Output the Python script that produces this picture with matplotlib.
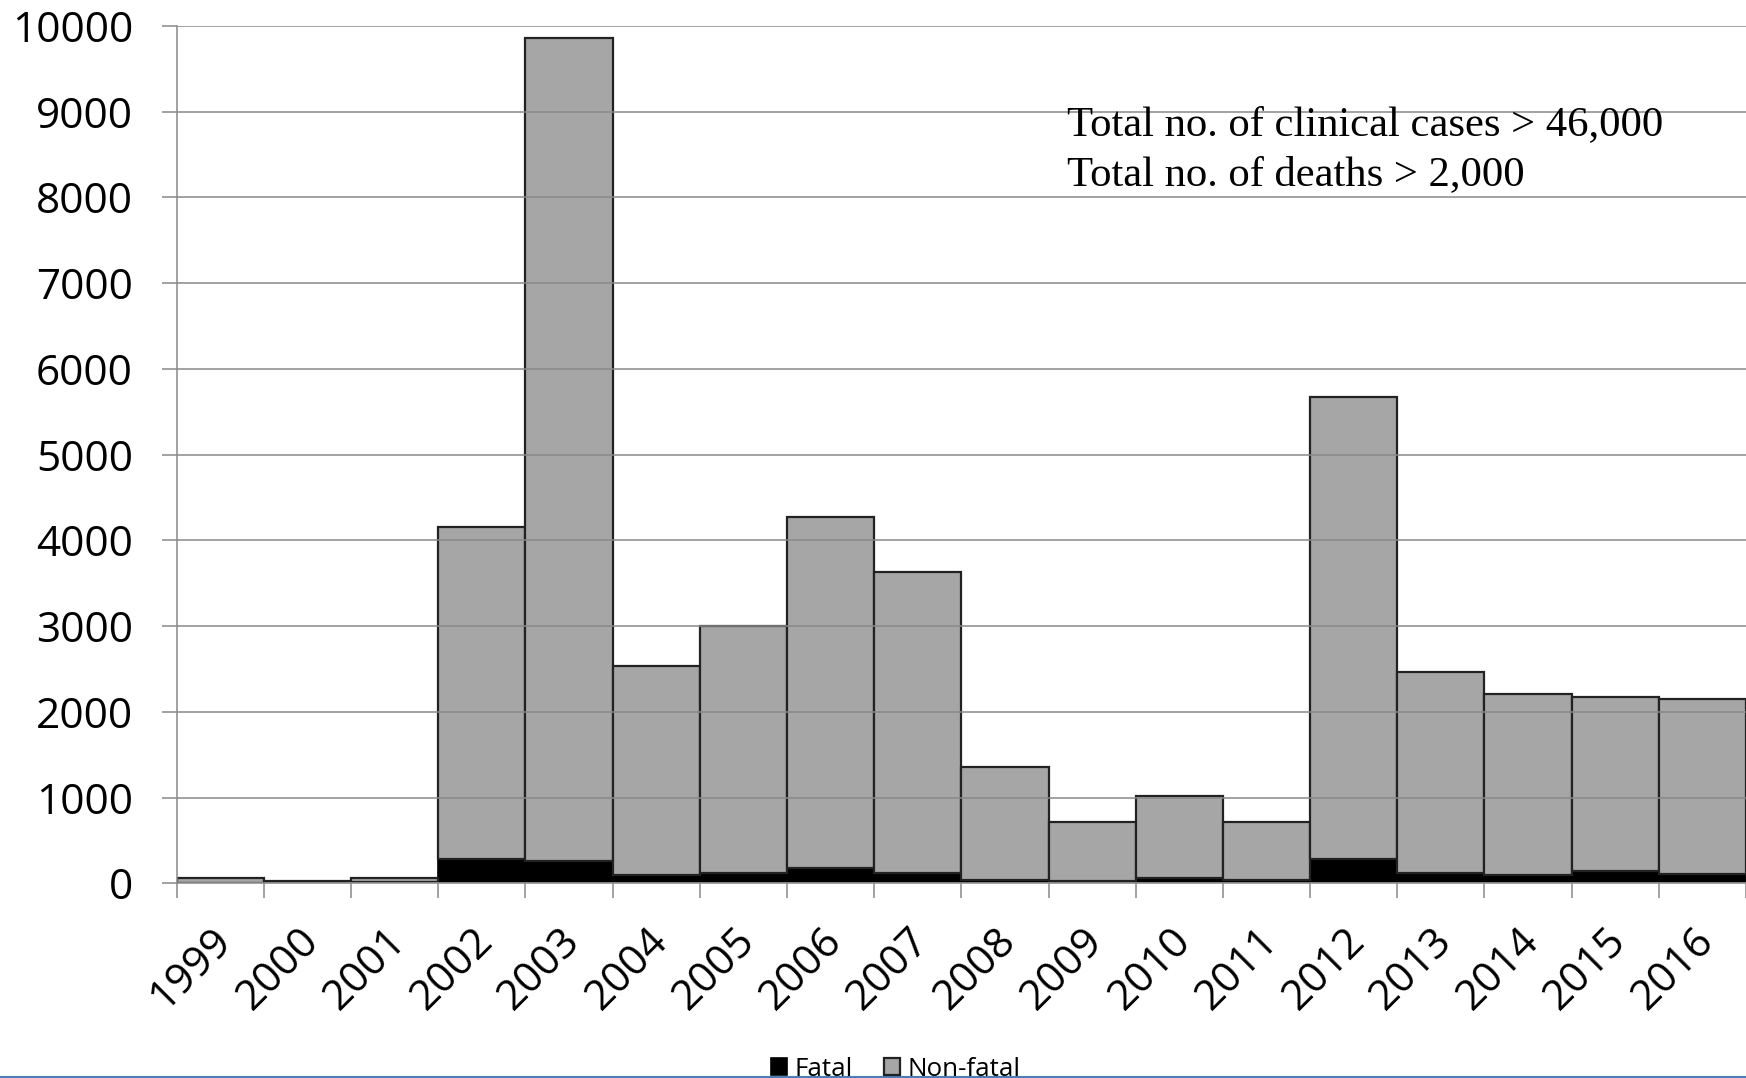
import numpy as np
import matplotlib
matplotlib.use('Agg')
import matplotlib.pyplot as plt
import matplotlib.transforms as mtransforms
from matplotlib.lines import Line2D

plt.rcParams['font.family'] = ['Open Sans', 'DejaVu Sans']

years = ['1999', '2000', '2001', '2002', '2003', '2004', '2005', '2006', '2007',
         '2008', '2009', '2010', '2011', '2012', '2013', '2014', '2015', '2016']
fatal = [7, 2, 10, 284, 264, 100, 119, 177, 124, 44, 32, 57, 43, 286, 119, 97, 146, 106]
non_fatal = [55, 19, 56, 3872, 9598, 2439, 2881, 4092, 3506, 1312, 688, 964, 669,
             5388, 2350, 2108, 2029, 2043]
note_lines = ['Total no. of clinical cases > 46,000', 'Total no. of deaths > 2,000']

W, H = 1746, 1078
fig = plt.figure(figsize=(W / 100, H / 100), dpi=100)
x0, y_top, y_zero, step = 176.7, 26.0, 883.3, 87.7
ax = fig.add_axes([x0 / W, 1 - y_zero / H, 1 - x0 / W, (y_zero - y_top) / H])

pos = np.arange(len(years)) + 0.5
grid_c = '#898989'
b1 = ax.bar(pos, fatal, width=1.0, color='black', edgecolor='black', linewidth=1.2, zorder=1,
            label='Fatal')
b2 = ax.bar(pos, non_fatal, width=1.0, bottom=fatal, color='#a6a6a6', edgecolor='#222222',
            linewidth=1.6, zorder=1, label='Non-fatal')

ax.set_xlim(0, (W - x0) / step)
ax.set_ylim(0, 10000)
ax.set_yticks(np.arange(0, 10001, 1000))
ax.yaxis.grid(True, color=grid_c, linewidth=1.1, zorder=2)
ax.set_axisbelow(False)

# boundary ticks between years, labels centred under each bar
ax.set_xticks(np.arange(0, len(years) + 1))
ax.set_xticklabels([])
ax.set_xticks(pos, minor=True)
ax.set_xticklabels(years, minor=True, rotation=45, ha='right', va='center',
                   rotation_mode='anchor', fontsize=30.5)
ax.tick_params(axis='x', which='major', direction='out', length=11, width=1.1, color=grid_c)
ax.tick_params(axis='x', which='minor', length=0, pad=37)
ax.tick_params(axis='y', direction='out', length=10.5, width=1.1, color=grid_c,
               labelsize=30.5, pad=21)
shift = mtransforms.ScaledTranslation(5 / 100, 0, fig.dpi_scale_trans)
for lbl in ax.get_xticklabels(minor=True):
    lbl.set_transform(lbl.get_transform() + shift)

for s in ['top', 'right']:
    ax.spines[s].set_visible(False)
for s in ['left', 'bottom']:
    ax.spines[s].set_color(grid_c)
    ax.spines[s].set_linewidth(1.1)

ax.text(10.21, 8731, note_lines[0], family='Liberation Serif', fontsize=30.7, va='baseline')
ax.text(10.21, 8148, note_lines[1], family='Liberation Serif', fontsize=30.7, va='baseline')

fig.legend(handles=[b1, b2], loc='center', bbox_to_anchor=(896 / W, 1 - 1069 / H),
           ncol=2, frameon=False, fontsize=18.7, handlelength=0.6, handleheight=0.6,
           handletextpad=0.3, columnspacing=1.2, borderaxespad=0, borderpad=0)

fig.add_artist(Line2D([0, 1], [1 - 1076.5 / H, 1 - 1076.5 / H], transform=fig.transFigure,
                      color='#4a7ebb', linewidth=2.2))

plt.savefig('out.png', dpi=100)
